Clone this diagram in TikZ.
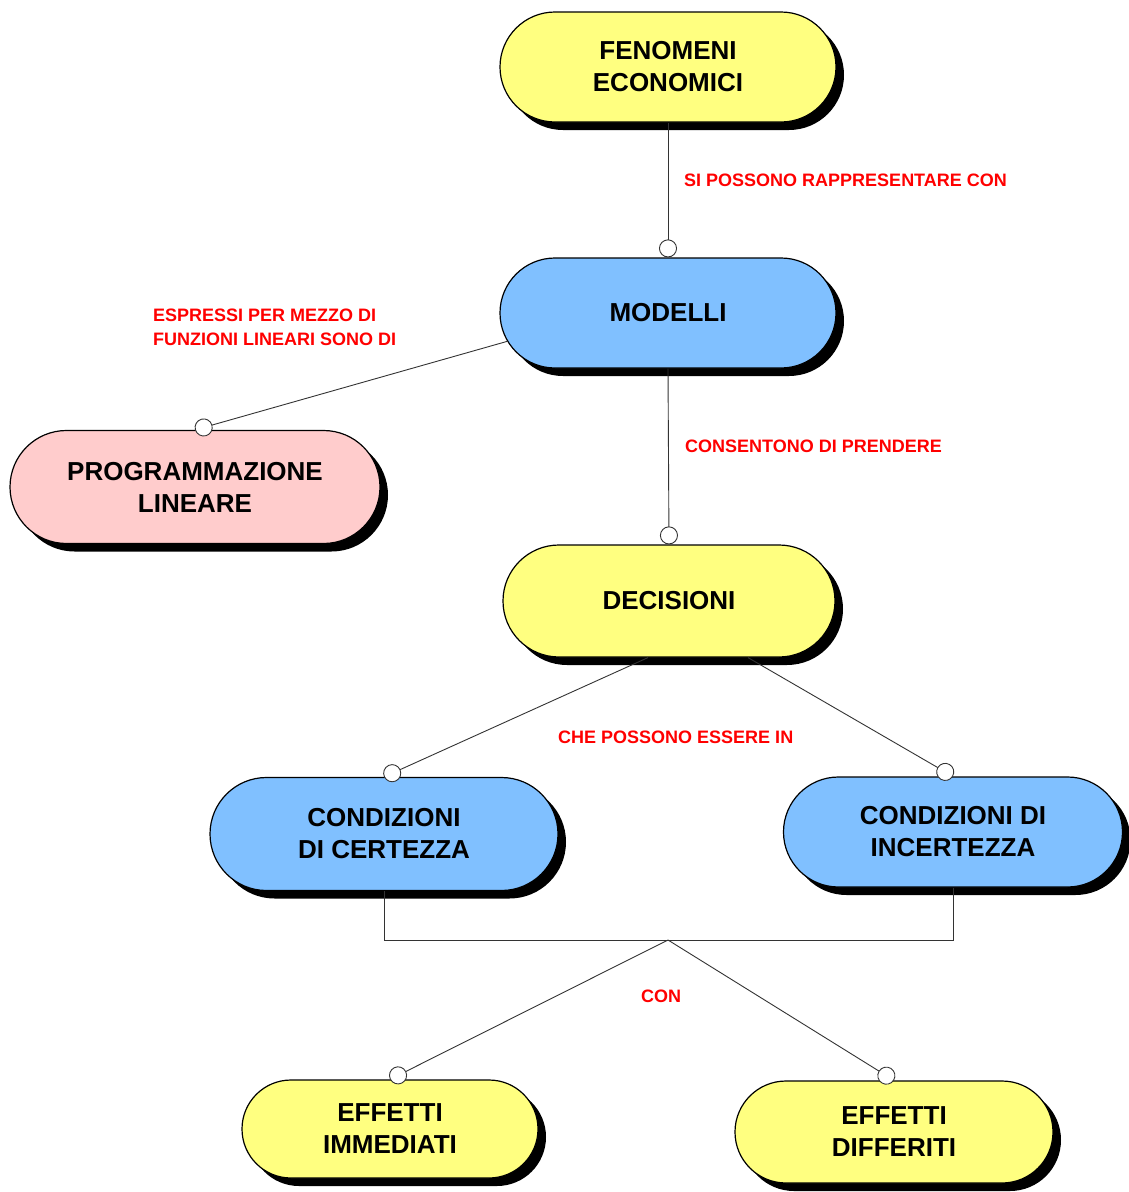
\documentclass[tikz,border=0pt]{standalone}
\usepackage{fontspec}
\setmainfont{Liberation Sans}
\usepackage{tikz}
\usetikzlibrary{shapes.misc,shadows,arrows.meta}
\definecolor{pale}{RGB}{255,255,128}
\definecolor{sky}{RGB}{128,192,255}
\definecolor{rose}{RGB}{255,204,204}
\tikzset{
	box/.style={rounded rectangle, draw=black, line width=1.2pt, inner sep=0pt, align=center,
		font=\fontsize{26}{32}\selectfont\bfseries,
		drop shadow={shadow xshift=8pt, shadow yshift=-8pt, fill=black, opacity=1}},
	tag/.style={text=red, anchor=west, align=left, inner sep=0pt, font=\fontsize{18}{24}\selectfont\bfseries},
	link/.style={black!80, line width=0.9pt, -{Circle[open, fill=white, length=18pt, width=18pt]}}
}

\begin{document}
\begin{tikzpicture}[x=1pt, y=-1pt]
	\useasboundingbox (0,0) rectangle (1128,1192);
	\node[box, fill=pale, minimum width=336pt, minimum height=110pt] (1) at (668,67) {FENOMENI\\ECONOMICI};
	\node[box, fill=sky, minimum width=336pt, minimum height=110pt] (2) at (668,313) {MODELLI};
	\node[box, fill=rose, minimum width=370pt, minimum height=113pt] (3) at (195,487) {PROGRAMMAZIONE\\LINEARE};
	\node[box, fill=pale, minimum width=332pt, minimum height=112pt] (4) at (669,601) {DECISIONI};
	\node[box, fill=sky, minimum width=348pt, minimum height=113pt] (5) at (384,834) {CONDIZIONI\\DI CERTEZZA};
	\node[box, fill=sky, minimum width=339pt, minimum height=110pt] (6) at (953,832) {CONDIZIONI DI\\INCERTEZZA};
	\node[box, fill=pale, minimum width=296pt, minimum height=98pt] (7) at (390,1129) {EFFETTI\\IMMEDIATI};
	\node[box, fill=pale, minimum width=318pt, minimum height=102pt] (8) at (894,1132) {EFFETTI\\DIFFERITI};
	\coordinate (hub) at (668,940);

	% labels
	\node[tag] (t1) at (684,180) {SI POSSONO RAPPRESENTARE CON};
	\node[tag] (t2) at (153,327) {ESPRESSI PER MEZZO DI\\FUNZIONI LINEARI SONO DI};
	\node[tag] (t3) at (685,446) {CONSENTONO DI PRENDERE};
	\node[tag] (t4) at (558,737) {CHE POSSONO ESSERE IN};
	\node[tag] (t5) at (641,996) {CON};

	% vertex 1
	\draw[link] (1.south) -- (2.north);
	% vertex 2
	\draw[link] (2.190) -- (3.north);
	\draw[link] (2.south) -- (4.north);
	% vertex 4
	\draw[link] ([xshift=-21pt]4.south) -- (5.north);
	\draw[link] ([xshift=79pt]4.south) -- (6.north);
	% vertex 5 and 6
	\draw[black!80, line width=0.9pt] (5.south) |- (hub);
	\draw[black!80, line width=0.9pt] (6.south) |- (hub);
	\draw[link] (hub) -- (7.north);
	\draw[link] (hub) -- (8.north);
\end{tikzpicture}
\end{document}
